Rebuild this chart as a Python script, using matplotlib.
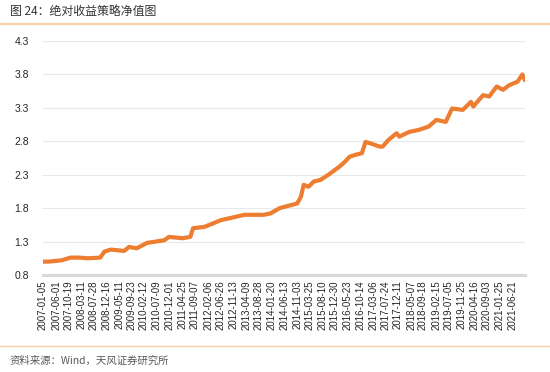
import matplotlib
matplotlib.use("Agg")
import matplotlib.pyplot as plt
from matplotlib.lines import Line2D
import pandas as pd

plt.rcParams['font.family'] = ['Liberation Sans', 'Noto Sans CJK SC', 'DejaVu Sans']

title = "图 24：绝对收益策略净值图"
source = "资料来源：Wind，天风证券研究所"

dates = ["2007-01-05", "2007-03-10", "2007-08-05", "2007-11-10", "2008-02-20", "2008-05-20",
         "2008-10-10", "2008-11-25", "2009-02-05", "2009-07-05", "2009-08-30", "2009-11-25",
         "2010-03-20", "2010-10-01", "2010-11-20", "2011-04-25", "2011-07-20", "2011-08-20",
         "2011-12-25", "2012-03-10", "2012-06-26", "2012-10-05", "2013-03-20", "2013-10-20",
         "2014-01-05", "2014-04-20", "2014-11-03", "2014-12-15", "2015-01-15", "2015-03-10",
         "2015-05-10", "2015-07-20", "2015-10-20", "2016-02-20", "2016-04-20", "2016-06-15",
         "2016-08-25", "2016-10-30", "2016-12-10", "2017-02-01", "2017-05-20", "2017-06-20",
         "2017-08-25", "2017-11-25", "2017-12-25", "2018-04-15", "2018-08-01", "2018-11-20",
         "2019-02-15", "2019-06-01", "2019-08-10", "2019-12-10", "2020-03-10", "2020-04-05",
         "2020-07-25", "2020-10-01", "2020-12-25", "2021-03-05", "2021-05-15", "2021-08-15",
         "2021-10-10", "2021-11-05"]
values = [1.00, 1.00, 1.02, 1.06, 1.06, 1.05,
          1.06, 1.15, 1.18, 1.16, 1.22, 1.20,
          1.28, 1.32, 1.37, 1.35, 1.37, 1.50,
          1.52, 1.56, 1.62, 1.65, 1.70, 1.70,
          1.72, 1.80, 1.87, 1.97, 2.15, 2.12,
          2.20, 2.22, 2.30, 2.42, 2.49, 2.57,
          2.60, 2.62, 2.79, 2.77, 2.72, 2.72,
          2.82, 2.92, 2.87, 2.94, 2.97, 3.02,
          3.12, 3.09, 3.29, 3.27, 3.39, 3.32,
          3.49, 3.47, 3.62, 3.57, 3.64, 3.69,
          3.80, 3.72]

tick_labels = ["2007-01-05", "2007-06-01", "2007-10-19", "2008-03-11", "2008-07-28", "2008-12-16",
               "2009-05-11", "2009-09-23", "2010-02-12", "2010-07-09", "2010-12-01", "2011-04-25",
               "2011-09-07", "2012-02-06", "2012-06-26", "2012-11-13", "2013-04-09", "2013-08-28",
               "2014-01-20", "2014-06-13", "2014-11-03", "2015-03-25", "2015-08-10", "2015-12-30",
               "2016-05-23", "2016-10-14", "2017-03-06", "2017-07-24", "2017-12-11", "2018-05-07",
               "2018-09-18", "2019-02-15", "2019-07-05", "2019-11-25", "2020-04-16", "2020-09-03",
               "2021-01-25", "2021-06-21"]
y_ticks = [0.8, 1.3, 1.8, 2.3, 2.8, 3.3, 3.8, 4.3]

fig = plt.figure(figsize=(5.5, 3.72), dpi=100)
ax = fig.add_axes([43/550, 1-275/372, (525-43)/550, (275-41)/372])

x = pd.to_datetime(dates)
ax.plot(x, values, color='#ED7D31', linewidth=3.0, solid_joinstyle='round')

tx = pd.to_datetime(tick_labels)
ax.set_xticks(tx)
ax.set_xticklabels(tick_labels, rotation=90, fontsize=7, color='#262626')
ax.set_xlim(pd.Timestamp("2007-01-05"), pd.Timestamp("2021-11-08"))
ax.set_ylim(0.8, 4.3)
ax.set_yticks(y_ticks)
ax.set_yticklabels([f"{v:.1f}" for v in y_ticks], fontsize=7.5, color='#262626')
ax.tick_params(axis='both', length=0)
ax.tick_params(axis='y', pad=10)
ax.tick_params(axis='x', pad=4)
ax.grid(axis='y', color='#e8e8e8', linewidth=0.8)
ax.set_axisbelow(True)
for s in ['top', 'right', 'left']:
    ax.spines[s].set_visible(False)
ax.spines['bottom'].set_color('#d9d9d9')
ax.spines['bottom'].set_linewidth(2.2)

fig.text(10/550, 1-12/372, title, fontsize=8.6, color='#333333', va='center', ha='left',
         family=['Noto Sans CJK SC', 'DejaVu Sans'], fontweight='medium')
fig.add_artist(Line2D([0, 1], [1-24/372, 1-24/372], transform=fig.transFigure,
                      color='#F8CFA3', linewidth=1.5))
fig.add_artist(Line2D([0, 1], [1-346/372, 1-346/372], transform=fig.transFigure,
                      color='#F8CFA3', linewidth=1.0))
fig.text(10/550, 1-361/372, source, fontsize=7.5, color='#595959', va='center', ha='left',
         family=['Noto Sans CJK SC', 'DejaVu Sans'])

fig.savefig("out.png", dpi=100)
